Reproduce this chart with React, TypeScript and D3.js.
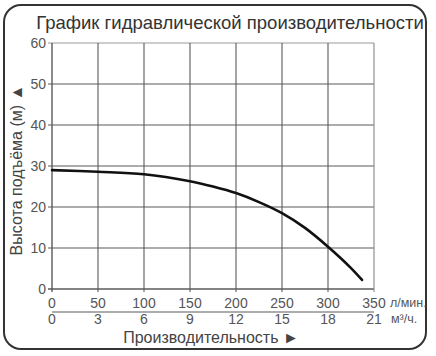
import React from "react";
import * as d3 from "d3";

const flowLpm = [0, 50, 100, 150, 175, 200, 225, 250, 275, 300, 325, 337];
const headM = [29, 28.6, 28.0, 26.3, 25.0, 23.4, 21.2, 18.5, 14.9, 10.3, 5.1, 2.2];
const xTicksLpm = [0, 50, 100, 150, 200, 250, 300, 350];
const xTicksM3h = ["0", "3", "6", "9", "12", "15", "18", "21"];
const yTicks = [0, 10, 20, 30, 40, 50, 60];

const title = "График гидравлической производительности";
const yTitle = "Высота подъёма (м) ▲";
const xTitle = "Производительность ►";

export default function App() {
  const W = 436, H = 356;
  const x = d3.scaleLinear().domain([0, 350]).range([52, 374]);
  const y = d3.scaleLinear().domain([0, 60]).range([289, 43]);
  const pts: [number, number][] = flowLpm.map((f, i) => [f, headM[i]]);
  const line = d3
    .line<[number, number]>()
    .x((d) => x(d[0]))
    .y((d) => y(d[1]))
    .curve(d3.curveCatmullRom.alpha(0.5));
  const font = "'Liberation Sans', Arial, sans-serif";
  const grid = "#5a5a5a";
  const txt = "#555";
  return (
    <svg width={W} height={H} style={{ position: "absolute", left: 0, top: 0, background: "#fff" }} fontFamily={font}>
      <rect x={4} y={5} width={422} height={344} rx={17} fill="#fff" stroke="#333" strokeWidth={2} />
      <text x={230} y={29} textAnchor="middle" fontSize={18.5} fill="#333">{title}</text>
      {/* grid */}
      {yTicks.map((t) => (
        <g key={"y" + t}>
          <line x1={x(0) - 4} x2={x(350)} y1={y(t)} y2={y(t)} stroke={t === 60 ? "#999" : grid} strokeWidth={t === 0 ? 1.4 : 1.1} />
          <text x={x(0) - 6} y={y(t) + 5} textAnchor="end" fontSize={14} fill={txt}>{t}</text>
        </g>
      ))}
      {xTicksLpm.map((t, i) => (
        <g key={"x" + t}>
          <line x1={x(t)} x2={x(t)} y1={y(60)} y2={y(0) + 3} stroke={i === 7 ? "#888" : grid} strokeWidth={i === 0 ? 1.4 : 1.1} />
          <text x={x(t)} y={308} textAnchor="middle" fontSize={14} fill={txt}>{t}</text>
          <text x={x(t)} y={324} textAnchor="middle" fontSize={14} fill={txt}>{xTicksM3h[i]}</text>
        </g>
      ))}
      <line x1={x(0)} x2={x(350)} y1={312} y2={312} stroke={grid} strokeWidth={1.1} />
      <text x={390} y={307} fontSize={12.5} fill={txt}>л/мин.</text>
      <text x={391} y={323} fontSize={12.5} fill={txt}>м³/ч.</text>
      <text x={211} y={343} textAnchor="middle" fontSize={16} fill="#444">{xTitle}</text>
      <text transform="translate(22,170) rotate(-90)" textAnchor="middle" fontSize={16} fill="#444">{yTitle}</text>
      <path d={line(pts) || ""} fill="none" stroke="#111" strokeWidth={2.6} strokeLinecap="round" />
    </svg>
  );
}
